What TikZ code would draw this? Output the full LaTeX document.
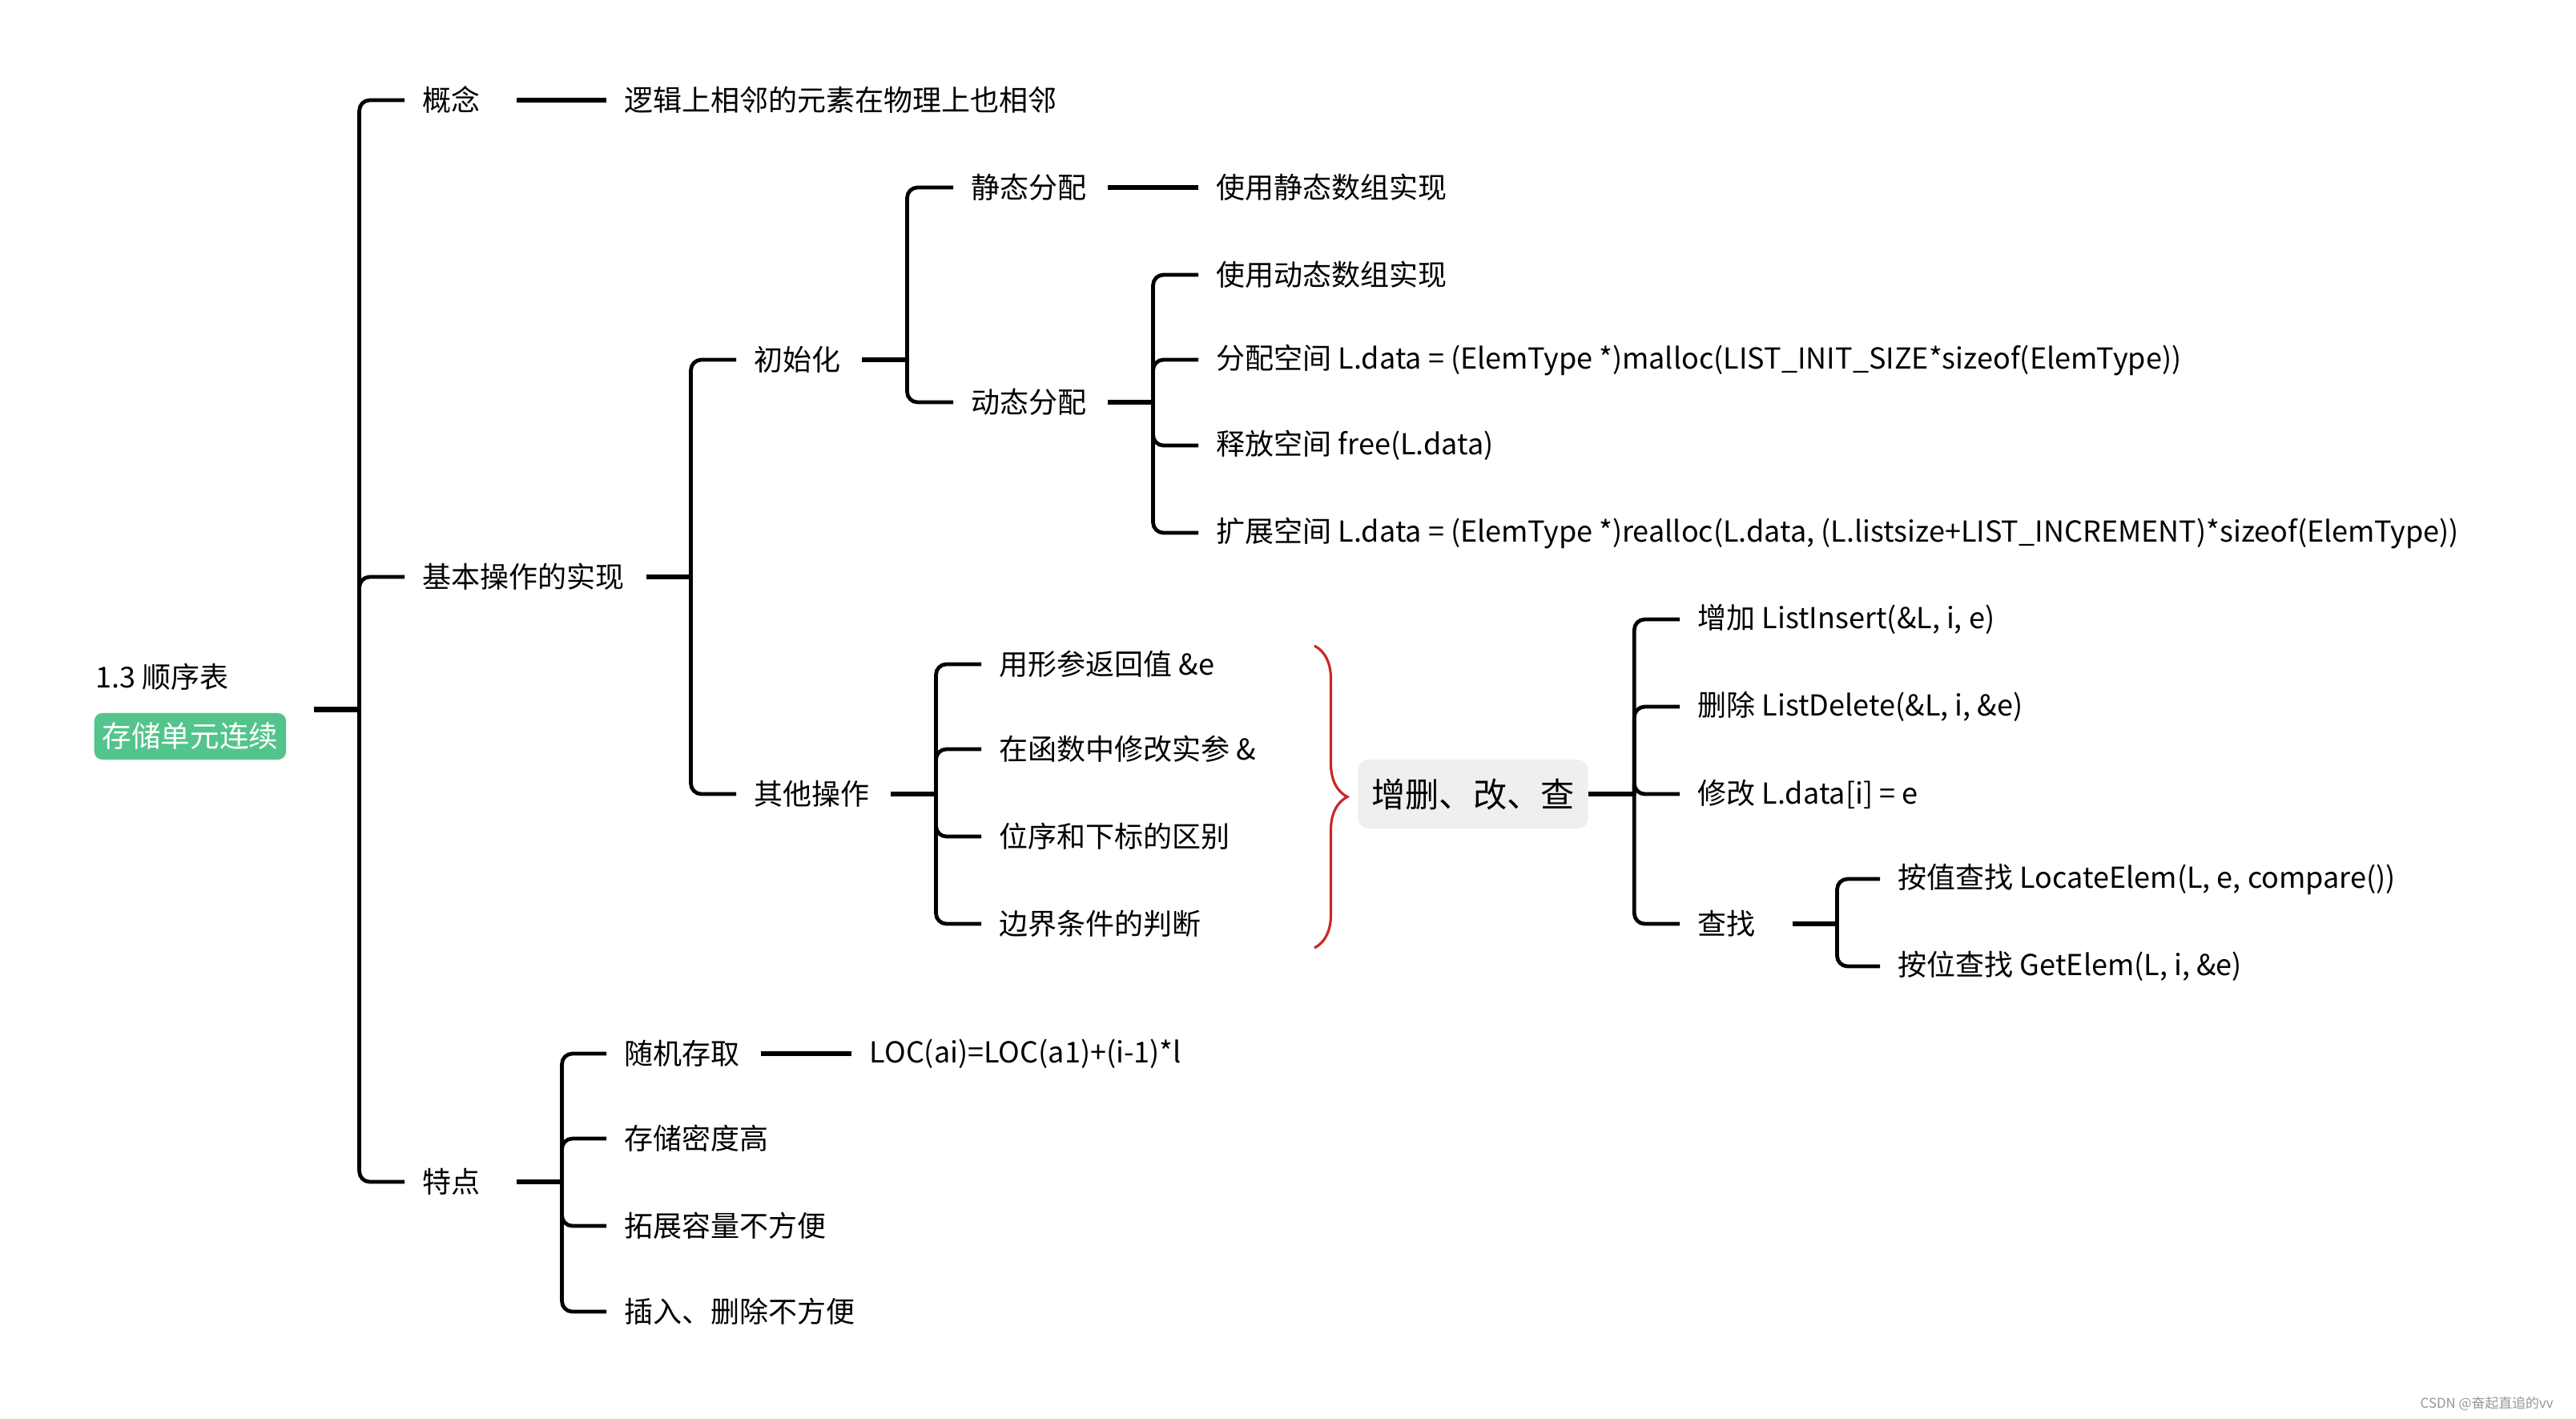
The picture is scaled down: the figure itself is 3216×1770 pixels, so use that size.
\documentclass[tikz,border=0pt]{standalone}
\usepackage{fontspec}
\setmainfont{Noto Sans CJK SC}
\usepackage{tikz}
\usetikzlibrary{positioning,fit,decorations.pathreplacing}
\definecolor{tagreen}{RGB}{83,196,140}
\definecolor{boxgray}{RGB}{239,239,239}
\definecolor{bracered}{RGB}{200,40,40}
\definecolor{markgray}{RGB}{150,150,150}
\tikzset{
  topic/.style={anchor=west, inner xsep=0.22cm, inner ysep=0.05cm,
                font=\fontsize{10.24}{12}\selectfont},
  shorttopic/.style={topic, text width=0.91cm, align=left},
  tag/.style={fill=tagreen, text=white, rounded corners=0.1cm, inner xsep=0.1cm,
              minimum height=0.58cm, font=\fontsize{10.4}{12}\selectfont},
  hub/.style={fill=boxgray, rounded corners=0.13cm, text width=2.54cm, align=center,
              inner xsep=0.165cm, minimum height=0.86cm,
              font=\fontsize{12}{14}\selectfont},
  link/.style={line width=1.35pt, rounded corners=0.13cm},
  stub/.style={line width=1.8pt},
  curly/.style={draw=bracered, line width=0.9pt, decorate,
                decoration={brace, amplitude=0.41cm}}
}

\begin{document}
\begin{tikzpicture}[x=0.01cm, y=-0.01cm]
  \useasboundingbox (0,0) rectangle (3216,1770);

  % root
  \node[topic, inner xsep=0] (title) at (119,845) {1.3 顺序表};
  \node[tag, anchor=west] (tag) at (117,919) {存储单元连续};
  \node[fit=(title)(tag), inner xsep=0.33cm, inner ysep=0] (root) {};
  \coordinate (j0) at ([xshift=0.57cm]root.east);
  \draw[stub] (root.east) -- (j0);

  % first level
  \node[shorttopic] (c1) at (505,125) {概念};
  \node[topic] (c1a) at (757,125) {逻辑上相邻的元素在物理上也相邻};
  \node[topic] (c2) at (505,720) {基本操作的实现};
  \node[shorttopic] (c3) at (505,1475) {特点};
  \draw[link] (j0) |- (c1.west);
  \draw[link] (j0) |- (c2.west);
  \draw[link] (j0) |- (c3.west);
  \draw[stub] ([xshift=0.04cm]c1.east) -- (c1a.west);

  % basic operations
  \coordinate (j2) at ([xshift=0.6cm]c2.east);
  \draw[stub] ([xshift=0.04cm]c2.east) -- (j2);
  \node[topic] (c21) at (919,449) {初始化};
  \node[topic] (c22) at (919,991) {其他操作};
  \draw[link] (j2) |- (c21.west);
  \draw[link] (j2) |- (c22.west);

  % init
  \coordinate (j21) at ([xshift=0.6cm]c21.east);
  \draw[stub] ([xshift=0.04cm]c21.east) -- (j21);
  \node[topic] (c211) at (1190,234) {静态分配};
  \node[topic] (c211a) at (1496,234) {使用静态数组实现};
  \node[topic] (c212) at (1190,502) {动态分配};
  \draw[link] (j21) |- (c211.west);
  \draw[link] (j21) |- (c212.west);
  \draw[stub] ([xshift=0.04cm]c211.east) -- (c211a.west);

  % dynamic allocation
  \coordinate (j212) at ([xshift=0.6cm]c212.east);
  \draw[stub] ([xshift=0.04cm]c212.east) -- (j212);
  \node[topic] (d1) at (1496,343) {使用动态数组实现};
  \node[topic] (d2) at (1496,449) {分配空间 L.data = (ElemType *)malloc(LIST\_INIT\_SIZE*sizeof(ElemType))};
  \node[topic] (d3) at (1496,556) {释放空间 free(L.data)};
  \node[topic] (d4) at (1496,665) {扩展空间 L.data = (ElemType *)realloc(L.data, (L.listsize+LIST\_INCREMENT)*sizeof(ElemType))};
  \draw[link] (j212) |- (d1.west);
  \draw[link] (j212) |- (d2.west);
  \draw[link] (j212) |- (d3.west);
  \draw[link] (j212) |- (d4.west);

  % other operations
  \coordinate (j22) at ([xshift=0.6cm]c22.east);
  \draw[stub] ([xshift=0.04cm]c22.east) -- (j22);
  \node[topic] (e1) at (1225,829) {用形参返回值 \&e};
  \node[topic] (e2) at (1225,935) {在函数中修改实参 \&};
  \node[topic] (e3) at (1225,1044) {位序和下标的区别};
  \node[topic] (e4) at (1225,1153) {边界条件的判断};
  \draw[link] (j22) |- (e1.west);
  \draw[link] (j22) |- (e2.west);
  \draw[link] (j22) |- (e3.west);
  \draw[link] (j22) |- (e4.west);

  % brace and CRUD box
  \coordinate (bt) at (1641,806);
  \coordinate (bb) at (1641,1183);
  \draw[curly] (bt) -- (bb);
  \node[hub] (hub) at (1839,991) {增删、改、查};
  \coordinate (j3) at ([xshift=0.57cm]hub.east);
  \draw[stub] (hub.east) -- (j3);
  \node[topic] (f1) at (2097,773) {增加 ListInsert(\&L, i, e)};
  \node[topic] (f2) at (2097,882) {删除 ListDelete(\&L, i, \&e)};
  \node[topic] (f3) at (2097,991) {修改 L.data[i] = e};
  \node[shorttopic] (f4) at (2097,1153) {查找};
  \draw[link] (j3) |- (f1.west);
  \draw[link] (j3) |- (f2.west);
  \draw[link] (j3) |- (f3.west);
  \draw[link] (j3) |- (f4.west);

  % search
  \coordinate (j4) at ([xshift=0.6cm]f4.east);
  \draw[stub] ([xshift=0.04cm]f4.east) -- (j4);
  \node[topic] (g1) at (2347,1097) {按值查找 LocateElem(L, e, compare())};
  \node[topic] (g2) at (2347,1206) {按位查找 GetElem(L, i, \&e)};
  \draw[link] (j4) |- (g1.west);
  \draw[link] (j4) |- (g2.west);

  % features
  \coordinate (j5) at ([xshift=0.6cm]c3.east);
  \draw[stub] ([xshift=0.04cm]c3.east) -- (j5);
  \node[topic] (h1) at (757,1315) {随机存取};
  \node[topic] (h1a) at (1063,1315) {LOC(ai)=LOC(a1)+(i-1)*l};
  \node[topic] (h2) at (757,1421) {存储密度高};
  \node[topic] (h3) at (757,1530) {拓展容量不方便};
  \node[topic] (h4) at (757,1637) {插入、删除不方便};
  \draw[link] (j5) |- (h1.west);
  \draw[link] (j5) |- (h2.west);
  \draw[link] (j5) |- (h3.west);
  \draw[link] (j5) |- (h4.west);
  \draw[stub] ([xshift=0.04cm]h1.east) -- (h1a.west);

  % watermark
  \node[anchor=east, text=markgray, font=\fontsize{4.8}{6}\selectfont] (mark) at (3200,1752) {CSDN @奋起直追的vv};
\end{tikzpicture}
\end{document}
